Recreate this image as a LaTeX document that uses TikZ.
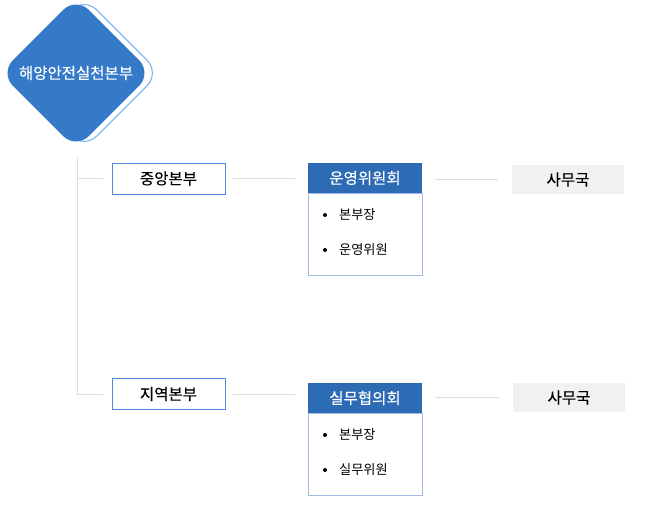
\documentclass[tikz,border=0pt]{standalone}
\usepackage{fontspec}
\setmainfont{Noto Sans CJK KR}
\newfontfamily\medf{Noto Sans CJK KR}[UprightFeatures={FakeBold=0.35}]
\usetikzlibrary{shapes.geometric,positioning}
\definecolor{diablue}{HTML}{3579C9}
\definecolor{dialine}{HTML}{6DB0EE}
\definecolor{headblue}{HTML}{2E6BB5}
\definecolor{brblue}{HTML}{4A8CD9}
\definecolor{bodyline}{HTML}{9DBBE3}
\definecolor{connc}{HTML}{DDDDDD}
\definecolor{officec}{HTML}{F1F1F1}
\tikzset{
  dia/.style={diamond, aspect=1, inner sep=0pt, minimum width=152pt, minimum height=152pt, rounded corners=18pt},
  branch/.style={draw=brblue, line width=1pt, fill=white, minimum width=113pt, minimum height=31pt, inner sep=0pt, font=\medf\fontsize{15.5}{17}\selectfont},
  headbox/.style={fill=headblue, text=white, minimum width=114pt, minimum height=30pt, inner sep=0pt, font=\medf\fontsize{15.5}{17}\selectfont},
  bodybox/.style={draw=bodyline, line width=0.8pt, minimum width=114pt, minimum height=82pt, inner sep=0pt},
  office/.style={fill=officec, minimum width=112pt, minimum height=29pt, inner sep=0pt, font=\medf\fontsize{15.5}{17}\selectfont},
  itemtxt/.style={anchor=west, inner sep=0pt, font=\fontsize{13.2}{15}\selectfont},
  dot/.style={circle, fill=black, minimum size=4pt, inner sep=0pt},
  conn/.style={draw=connc, line width=0.8pt},
}
\begin{document}
\begin{tikzpicture}[x=1pt,y=-1pt]
\useasboundingbox (0,0) rectangle (653,530);
% diamond
\node[dia, draw=dialine, line width=1pt] (diashadow) at (84,73) {};
\node[dia, fill=diablue, text=white, font=\medf\fontsize{15.5}{17}\selectfont] (dia) at (76,73) {해양안전실천본부};
% branches
\node[branch] (b1) at (168.5,178.5) {중앙본부};
\node[branch] (b2) at (168.5,394) {지역본부};
% committees
\node[headbox] (h1) at (365,178) {운영위원회};
\node[bodybox, anchor=north] (bd1) at (h1.south) {};
\node[headbox] (h2) at (365,398) {실무협의회};
\node[bodybox, anchor=north] (bd2) at (h2.south) {};
% offices
\node[office] (o1) at (568,179.5) {사무국};
\node[office] (o2) at (569,397.5) {사무국};
% items
\node[itemtxt] (t1a) at (339,215) {본부장};
\node[itemtxt] (t1b) at (339,250) {운영위원};
\node[itemtxt] (t2a) at (339,435) {본부장};
\node[itemtxt] (t2b) at (339,470) {실무위원};
\foreach \t in {t1a,t1b,t2a,t2b}{\node[dot] at ([xshift=-14pt]\t.west) {};}
% connectors
\coordinate (vtop) at (77,158);
\draw[conn] (vtop) |- ([xshift=-9pt]b2.west);
\draw[conn] (vtop |- b1.west) -- ([xshift=-9pt]b1.west);
\draw[conn] ([xshift=7pt]b1.east) -- ([xshift=-13pt]b1.east -| h1.west);
\draw[conn] ([xshift=7pt]b2.east) -- ([xshift=-13pt]b2.east -| h2.west);
\draw[conn] ([xshift=13pt]h1.east |- o1.west) -- ([xshift=-14pt]o1.west);
\draw[conn] ([xshift=13pt]h2.east |- o2.west) -- ([xshift=-14pt]o2.west);
\end{tikzpicture}
\end{document}
